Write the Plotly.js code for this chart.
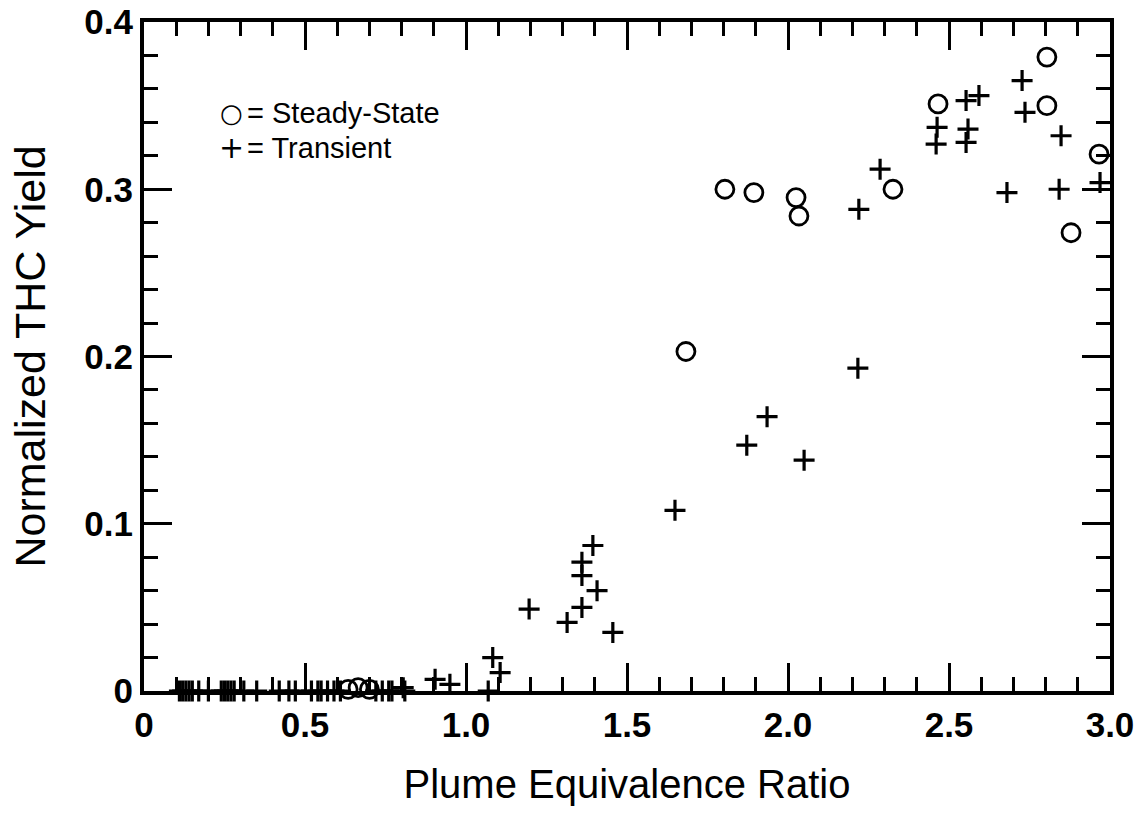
<!DOCTYPE html>
<html>
<head>
<meta charset="utf-8">
<script src="https://cdn.plot.ly/plotly-3.0.1.min.js"></script>
<style>html,body{margin:0;padding:0;background:#fff;}#chart{width:1142px;height:826px;}</style>
</head>
<body>
<div id="chart"></div>
<script>
// Steady-state points (open circles)
const steadyX = [0.634, 0.665, 0.700, 1.683, 1.804, 1.894, 2.025, 2.034, 2.326, 2.466, 2.804, 2.804, 2.879, 2.966];
const steadyY = [0.001, 0.002, 0.001, 0.203, 0.300, 0.298, 0.295, 0.284, 0.300, 0.351, 0.379, 0.350, 0.274, 0.321];

// Transient points (plus signs)
const transX = [0.11, 0.12, 0.13, 0.14, 0.15, 0.17, 0.20, 0.24, 0.25, 0.26, 0.27, 0.28, 0.31, 0.35,
  0.42, 0.45, 0.47, 0.52, 0.54, 0.55, 0.57, 0.59, 0.61, 0.72, 0.74, 0.76, 0.77, 0.81,
  0.805, 0.904, 0.950, 1.069, 1.083, 1.106, 1.196, 1.314, 1.360, 1.360, 1.360, 1.394, 1.407, 1.456,
  1.649, 1.872, 1.935, 2.050, 2.217, 2.220, 2.286, 2.460, 2.463, 2.553, 2.559, 2.553, 2.593,
  2.680, 2.727, 2.736, 2.842, 2.848, 2.969];
const transY = [0, 0, 0, 0, 0, 0, 0, 0, 0, 0, 0, 0, 0, 0,
  0, 0, 0, 0, 0, 0, 0, 0, 0, 0, 0, 0, 0, 0,
  0.002, 0.007, 0.004, 0.000, 0.020, 0.011, 0.049, 0.041, 0.050, 0.069, 0.077, 0.087, 0.060, 0.035,
  0.108, 0.147, 0.164, 0.138, 0.193, 0.288, 0.312, 0.327, 0.337, 0.328, 0.336, 0.353, 0.356,
  0.298, 0.365, 0.346, 0.300, 0.332, 0.304];

const xTickVals = [0, 0.5, 1.0, 1.5, 2.0, 2.5, 3.0];
const xTickText = ["0", "0.5", "1.0", "1.5", "2.0", "2.5", "3.0"];
const yTickVals = [0, 0.1, 0.2, 0.3, 0.4];
const yTickText = ["0", "0.1", "0.2", "0.3", "0.4"];

const legendSymbols = ["\u25CB", "+"];
const legendLabels = ["= Steady-State", "= Transient"];

const traces = [
  {
    x: steadyX, y: steadyY, type: 'scatter', mode: 'markers', name: 'Steady-State',
    cliponaxis: false,
    marker: {symbol: 'circle-open', size: 18, color: '#000', line: {width: 2.8, color: '#000'}}
  },
  {
    x: transX, y: transY, type: 'scatter', mode: 'markers', name: 'Transient',
    cliponaxis: false,
    marker: {symbol: 'cross-thin-open', size: 15, color: '#000', line: {width: 3.2, color: '#000'}}
  }
];

const FONT = 'Liberation Sans, Arial, sans-serif';
const axisCommon = {
  showline: true, linewidth: 4, linecolor: '#000', mirror: 'ticks',
  ticks: 'inside', tickcolor: '#000', tickwidth: 3,
  showgrid: false, zeroline: false,
  tickfont: {family: FONT, size: 35, color: '#000', weight: 'bold'}
};

const layout = {
  width: 1142, height: 826,
  margin: {l: 144, r: 32, t: 22, b: 135},
  paper_bgcolor: '#fff', plot_bgcolor: '#fff',
  showlegend: false,
  xaxis: Object.assign({}, axisCommon, {
    range: [0, 3], tickmode: 'array', tickvals: xTickVals, ticktext: xTickText, ticklen: 28,
    minor: {dtick: 0.1, ticks: 'inside', ticklen: 14, tickwidth: 3, tickcolor: '#000', showgrid: false},
    title: {text: 'Plume Equivalence Ratio', standoff: 28,
      font: {family: FONT, size: 40, color: '#000'}}
  }),
  yaxis: Object.assign({}, axisCommon, {
    range: [0, 0.4], tickmode: 'array', tickvals: yTickVals, ticktext: yTickText, ticklen: 28,
    minor: {dtick: 0.02, ticks: 'inside', ticklen: 14, tickwidth: 3, tickcolor: '#000', showgrid: false},
    title: {text: 'Normalized THC Yield', standoff: 26,
      font: {family: FONT, size: 43, color: '#000'}}
  }),
  annotations: legendSymbols.map((s, i) => ({
    text: s, xref: 'paper', yref: 'paper', x: 0.091, y: 0.864 - i * 0.052,
    xanchor: 'center', yanchor: 'middle', showarrow: false,
    font: {family: 'DejaVu Sans, sans-serif', size: i === 0 ? 26 : 30, color: '#000'}
  })).concat(legendLabels.map((t, i) => ({
    text: t, xref: 'paper', yref: 'paper', x: 0.105, y: 0.864 - i * 0.052,
    xanchor: 'left', yanchor: 'middle', showarrow: false,
    font: {family: FONT, size: 29, color: '#000'}
  })))
};

Plotly.newPlot('chart', traces, layout, {staticPlot: true, displayModeBar: false});
</script>
</body>
</html>
